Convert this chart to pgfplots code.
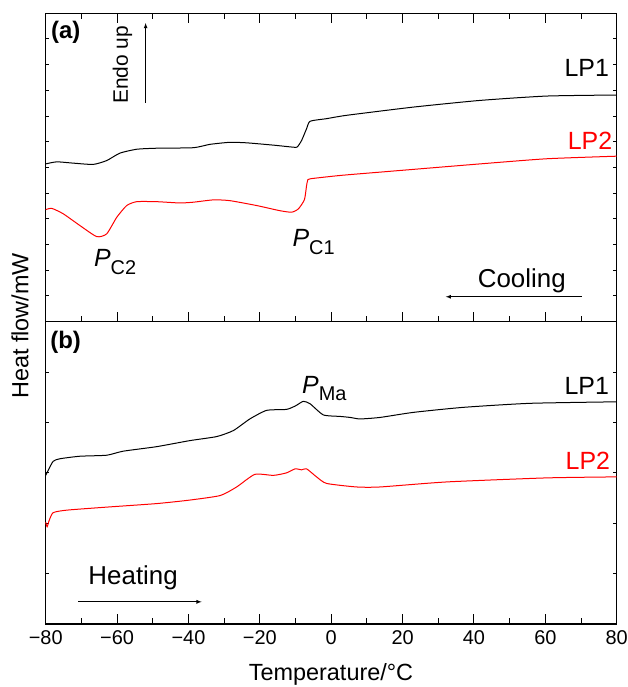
\documentclass[border=0pt]{standalone}
\usepackage{pgfplots}
\pgfplotsset{compat=1.18}
\usepackage{fontspec}
\setmainfont{Liberation Sans}
\newcommand{\fs}[1]{\fontsize{#1}{#1}\selectfont}
\begin{document}
\begin{tikzpicture}[x=1bp,y=1bp]
\path[use as bounding box] (-45.7,-365.3) rectangle (582.3,321.7);
\pgfplotsset{
  myax/.style={
    scale only axis, width=571bp,
    xmin=-80, xmax=80,
    xtick={-80,-60,...,80}, minor xtick={-70,-50,...,70},
    tick align=inside,
    major tick length=10bp, minor tick length=6bp,
    yticklabels={},
    axis line style={line width=1.3bp},
    tick style={line width=1bp, black},
    y tick style={/pgfplots/major tick length=3.5bp},
    clip=false,
  },
  curve/.style={line width=1bp, smooth, tension=0.35, no markers},
}
% ---------------- panel (a) ----------------
\begin{axis}[myax, at={(0,0)}, anchor=south west, height=308.4bp,
  ymin=0, ymax=12, ytick={0,1,...,12}, xticklabels={}]
\addplot[curve, black] coordinates {
(-80,6.14) (-76.9,6.22) (-72.3,6.17) (-66.7,6.12) (-62.9,6.27) (-59.2,6.56)
(-54.5,6.71) (-48.9,6.75) (-38.6,6.77) (-34.0,6.90) (-28.4,6.98) (-23.7,6.96)
(-16.2,6.87) (-10.6,6.79) (-9.5,6.80) (-8.3,7.05) (-6.9,7.51) (-5.9,7.80)
(-1.3,7.90) (4.3,8.03) (23,8.35) (41.7,8.61) (60.4,8.78) (80,8.82)};
\addplot[curve, red] coordinates {
(-80,4.36) (-78.3,4.41) (-75.1,4.20) (-70.4,3.74) (-65.7,3.31) (-62.9,3.42)
(-60.1,4.06) (-57.3,4.52) (-54.5,4.67) (-48.9,4.67) (-42.4,4.62) (-38.6,4.65)
(-33.0,4.74) (-28.4,4.71) (-20.9,4.52) (-14.4,4.32) (-11.1,4.26) (-9.2,4.39)
(-7.5,4.75) (-6.9,5.3) (-6.6,5.49) (-5.9,5.56) (2.5,5.69) (13.7,5.82)
(41.7,6.14) (60.4,6.34) (80,6.44)};
\node[font=\fs{24}\bfseries] at (axis cs:-74.4,11.25) {(a)};
\node[font=\fs{21}, rotate=90] at (axis cs:-58.5,10.0) {Endo up};
\draw[-latex, line width=0.8bp] (axis cs:-52.0,8.51) -- (axis cs:-52.0,11.62);
\node[font=\fs{25}] at (axis cs:71.6,9.89) {LP1};
\node[font=\fs{25}, text=red] at (axis cs:72.5,7.03) {LP2};
\node[font=\fs{25}, anchor=base west, inner sep=0pt] at (axis cs:-66.5,2.13)
  {\itshape P\upshape\raisebox{-0.3em}{\fs{20}C2}};
\node[font=\fs{25}, anchor=base west, inner sep=0pt] at (axis cs:-10.9,2.91)
  {\itshape P\upshape\raisebox{-0.3em}{\fs{20}C1}};
\node[font=\fs{26}] at (axis cs:53.4,1.58) {Cooling};
\draw[-latex, line width=0.8bp] (axis cs:70.2,0.97) -- (axis cs:32.1,0.97);
\end{axis}
% ---------------- panel (b) ----------------
\begin{axis}[myax, at={(0,0)}, anchor=north west, height=302.3bp,
  ymin=0, ymax=6, ytick={0,1,...,6}, xtick pos=bottom,
  xticklabels={−80,−60,−40,−20,0,20,40,60,80},
  xticklabel style={font=\fs{20}, yshift=-3bp}]
\addplot[curve, black] coordinates {
(-80,2.95) (-79.3,3.05) (-77.9,3.23) (-76.0,3.28) (-70.4,3.33) (-62.9,3.35)
(-58.3,3.43) (-48.9,3.52) (-39.6,3.64) (-32.1,3.72) (-27.4,3.84) (-22.8,4.07)
(-18.1,4.24) (-12.5,4.26) (-10,4.33) (-7.8,4.42) (-5.9,4.37) (-2.2,4.15)
(2.5,4.12) (5.3,4.10) (8.1,4.07) (13.7,4.10) (23,4.20) (37,4.30) (55.7,4.38) (80,4.41)};
\addplot[curve, red] coordinates {
(-80,2.02) (-79.6,1.93) (-79.0,2.06) (-77.9,2.21) (-74.1,2.26) (-62.9,2.32)
(-48.9,2.39) (-39.6,2.46) (-31.1,2.55) (-26.5,2.72) (-21.4,2.97) (-16.2,2.95)
(-12.5,3.00) (-10.1,3.08) (-8.3,3.06) (-6.9,3.08) (-4.1,2.92) (-1.3,2.79)
(7.1,2.72) (13.7,2.72) (32.4,2.82) (60.4,2.90) (80,2.92)};
\node[font=\fs{24}\bfseries] at (axis cs:-74.4,5.60) {(b)};
\node[font=\fs{25}, anchor=base west, inner sep=0pt] at (axis cs:-8.2,4.58)
  {\itshape P\upshape\raisebox{-0.3em}{\fs{20}Ma}};
\node[font=\fs{25}] at (axis cs:71.6,4.72) {LP1};
\node[font=\fs{25}, text=red] at (axis cs:71.9,3.23) {LP2};
\node[font=\fs{26}] at (axis cs:-55.5,0.91) {Heating};
\draw[-latex, line width=0.8bp] (axis cs:-70.9,0.44) -- (axis cs:-36.3,0.44);
\end{axis}
\node[font=\fs{23.5}, rotate=90] at (-25.7,-4.3) {Heat flow/mW};
\node[font=\fs{23.5}] at (285.3,-352.5) {Temperature/°C};
\end{tikzpicture}
\end{document}
